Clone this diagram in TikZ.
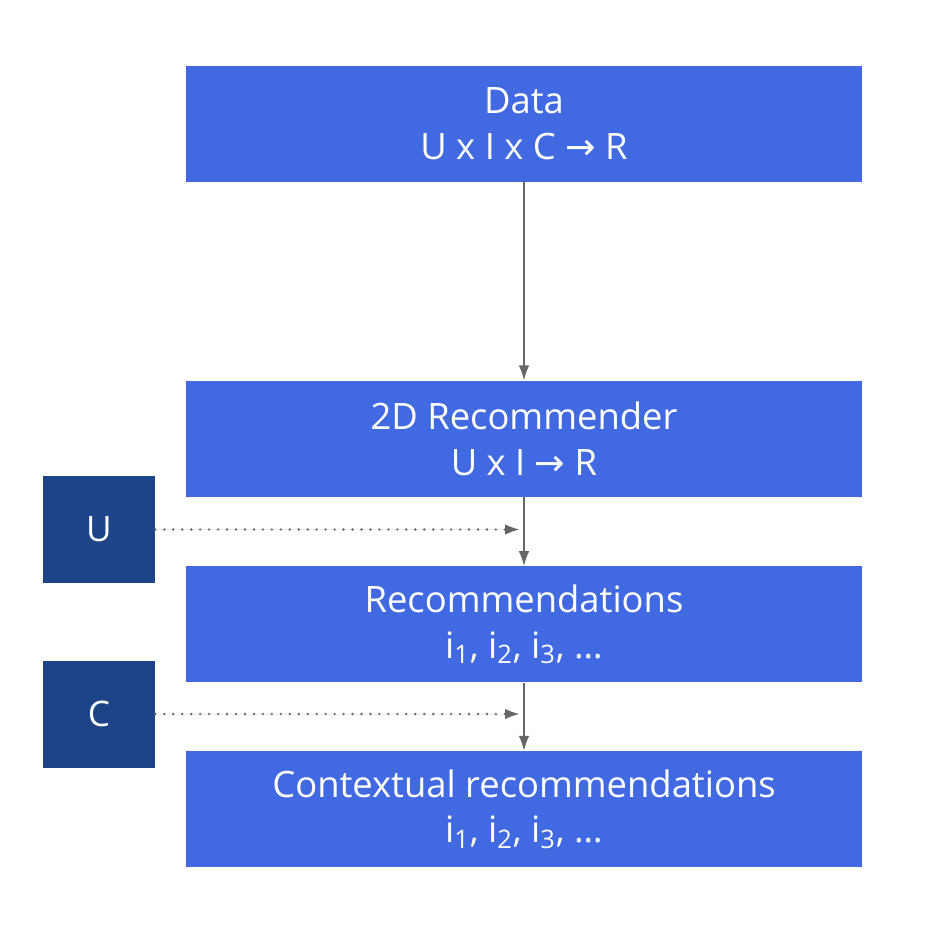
\documentclass[tikz,border=0pt]{standalone}
\usepackage{fontspec}
\setmainfont{Open Sans}
\newfontfamily\arrowfont{DejaVu Sans}
\usetikzlibrary{arrows.meta}
\usetikzlibrary{positioning}
\definecolor{boxblue}{HTML}{4169E1}
\definecolor{darkblue}{HTML}{1E4488}
\definecolor{linegrey}{HTML}{666666}
\newcommand{\toarrow}{{\arrowfont →}}

\begin{document}
\begin{tikzpicture}[node distance=1.37cm, auto]
    % Define styles
    \tikzstyle{stage} = [rectangle, fill=boxblue, text=white, text centered, align=center, minimum width=13.52cm, minimum height=2.32cm, font=\fontsize{20.7}{26}\selectfont, inner sep=0pt]
    \tikzstyle{input} = [rectangle, fill=darkblue, text=white, text centered, minimum width=2.24cm, minimum height=2.14cm, font=\fontsize{20}{24}\selectfont]
    \tikzstyle{flow} = [-{Latex[length=8.5pt,width=6pt]}, draw=linegrey, fill=linegrey, line width=0.85pt]
    \tikzstyle{ctx} = [-{Latex[length=8.5pt,width=6pt]}, draw=linegrey, fill=linegrey, line width=1.5pt, line cap=round, dash pattern=on 0pt off 5.1pt]

    \useasboundingbox (0,0) rectangle (18.92,18.70);

    % Stages
    \node[stage] (data) at (10.48,16.22) {Data\\U x I x C \toarrow{} R};
    \node[stage, below=3.96cm of data] (twod) {2D Recommender\\U x I \toarrow{} R};
    \node[stage, below=1.38cm of twod] (recs) {Recommendations\\i\textsubscript{1}, i\textsubscript{2}, i\textsubscript{3}, \dots};
    \node[stage, below=1.36cm of recs] (context) {Contextual recommendations\\i\textsubscript{1}, i\textsubscript{2}, i\textsubscript{3}, \dots};

    % Inputs
    \node[input] (user) at (1.98,8.11) {U};
    \node[input] (cond) at (1.98,4.42) {C};

    % Relations
    \draw[flow] (data) -- (twod);
    \draw[flow] (twod) -- (recs);
    \draw[flow] (recs) -- (context);

    \coordinate (userEnd) at (10.40,8.11);
    \coordinate (condEnd) at (10.40,4.42);
    \draw[ctx] (user.east) -- (userEnd);
    \draw[ctx] (cond.east) -- (condEnd);

\end{tikzpicture}
\end{document}
